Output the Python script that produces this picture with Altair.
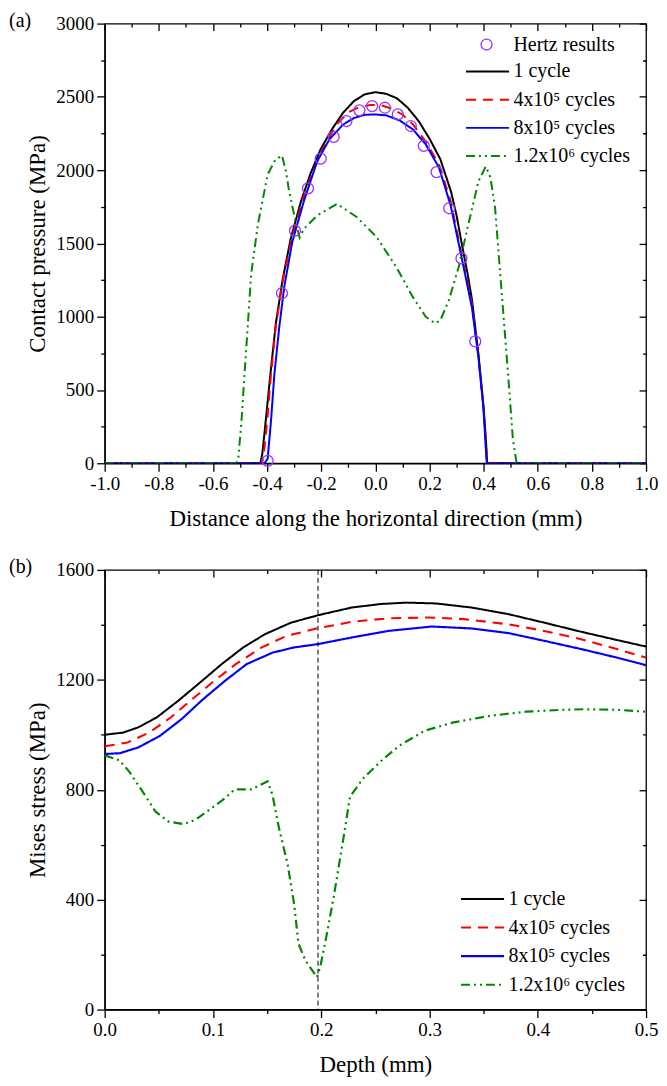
import altair as alt
import pandas as pd

FONT = "Liberation Serif"
SERIES = ["1 cycle", "4x10\u2075 cycles", "8x10\u2075 cycles", "1.2x10\u2076 cycles"]
COLORS = ["#000000", "#ff0000", "#0000ff", "#008800"]
DASHES = [[1, 0], [10, 7], [1, 0], [9, 4, 2, 4, 2, 4]]
WIDTH_A = [2, 2, 3.5, 2.5]
WIDTH_B = [2, 2.2, 2, 2.5]
HERTZ_LABEL = "Hertz results"
HERTZ_COLOR = "#9933ff"
PW, PH = 543, 441
LEGEND_LINE = "M-2.7,0H2.7"

# ---------------- panel (a): contact pressure ----------------
HERTZ_X = [-0.398, -0.345, -0.297, -0.249, -0.202, -0.154, -0.107, -0.059, -0.012,
           0.035, 0.083, 0.131, 0.179, 0.226, 0.273, 0.318, 0.369]
HERTZ_Y = [16, 1160, 1587, 1876, 2079, 2227, 2335, 2408, 2437,
           2426, 2381, 2301, 2166, 1987, 1740, 1398, 832]

A_X_1 = [-1.0, -0.425, -0.418, -0.410, -0.398, -0.386, -0.368, -0.343, -0.313, -0.276,
         -0.240, -0.203, -0.160, -0.120, -0.080, -0.040, 0.000, 0.040, 0.080, 0.120,
         0.160, 0.200, 0.240, 0.280, 0.300, 0.320, 0.340, 0.357, 0.381, 0.399, 0.408, 0.413, 1.0]
A_Y_1 = [0, 0, 60, 200, 420, 640, 950, 1250, 1530, 1780,
         1975, 2140, 2280, 2390, 2470, 2517, 2532, 2521, 2490, 2425,
         2335, 2215, 2075, 1850, 1690, 1490, 1300, 1115, 740, 400, 170, 0, 0]

A_X_4 = [-1.0, -0.418, -0.410, -0.398, -0.386, -0.368, -0.343, -0.310, -0.270, -0.230,
         -0.190, -0.142, -0.100, -0.060, -0.020, 0.020, 0.060, 0.100, 0.140, 0.186,
         0.235, 0.278, 0.318, 0.357, 0.381, 0.399, 0.410, 0.413, 1.0]
A_Y_4 = [0, 0, 100, 320, 600, 930, 1235, 1525, 1790, 1995,
         2160, 2315, 2395, 2430, 2445, 2443, 2420, 2380, 2310, 2195,
         2040, 1790, 1430, 1085, 725, 385, 100, 0, 0]

A_X_8 = [-1.0, -0.410, -0.398, -0.386, -0.373, -0.355, -0.337, -0.307, -0.264, -0.215,
         -0.170, -0.120, -0.080, -0.040, 0.000, 0.040, 0.089, 0.138, 0.186, 0.235,
         0.278, 0.318, 0.357, 0.381, 0.399, 0.410, 0.412, 1.0]
A_Y_8 = [0, 0, 30, 280, 610, 930, 1200, 1510, 1790, 2060,
         2210, 2310, 2355, 2378, 2380, 2374, 2340, 2279, 2177, 2018,
         1760, 1410, 1060, 720, 380, 40, 0, 0]

A_X_12 = [-1.0, -0.515, -0.507, -0.495, -0.483, -0.471, -0.459, -0.434, -0.398, -0.370,
          -0.345, -0.330, -0.319, -0.295, -0.280, -0.264, -0.215, -0.142, -0.069, 0.004,
          0.077, 0.138, 0.186, 0.220, 0.240, 0.271, 0.308, 0.344, 0.381, 0.408,
          0.425, 0.442, 0.466, 0.490, 0.508, 0.521, 0.530, 1.0]
A_Y_12 = [0, 0, 20, 280, 620, 950, 1290, 1630, 1970, 2070,
          2100, 1990, 1860, 1650, 1540, 1600, 1690, 1770, 1680, 1545,
          1340, 1135, 1000, 955, 975, 1110, 1340, 1635, 1925, 2025,
          1950, 1750, 1180, 615, 165, 10, 0, 0]

# ---------------- panel (b): Mises stress ----------------
B_X_1 = [0.0, 0.017, 0.031, 0.048, 0.068, 0.088, 0.108, 0.128, 0.148, 0.172, 0.197,
         0.228, 0.255, 0.279, 0.306, 0.339, 0.373, 0.406, 0.440, 0.473, 0.5]
B_Y_1 = [1000, 1008, 1027, 1063, 1124, 1190, 1257, 1318, 1366, 1408, 1435,
         1463, 1476, 1481, 1478, 1463, 1439, 1408, 1375, 1345, 1321]

B_X_4 = [0.0, 0.021, 0.041, 0.061, 0.081, 0.101, 0.121, 0.145, 0.168, 0.197,
         0.228, 0.262, 0.299, 0.332, 0.373, 0.406, 0.440, 0.473, 0.5]
B_Y_4 = [958, 972, 1008, 1063, 1130, 1196, 1257, 1318, 1360, 1388,
         1411, 1424, 1427, 1421, 1402, 1378, 1348, 1312, 1281]

B_X_8 = [0.0, 0.014, 0.031, 0.051, 0.071, 0.091, 0.111, 0.131, 0.155, 0.175, 0.197,
         0.228, 0.262, 0.302, 0.339, 0.373, 0.406, 0.440, 0.473, 0.5]
B_Y_8 = [930, 933, 954, 996, 1057, 1130, 1196, 1257, 1299, 1318, 1330,
         1354, 1378, 1394, 1387, 1370, 1342, 1312, 1281, 1253]

B_X_12 = [0.0, 0.0137, 0.0228, 0.035, 0.047, 0.059, 0.073, 0.0836, 0.0988, 0.111,
          0.120, 0.1353, 0.1505, 0.155, 0.161, 0.169, 0.175, 0.179, 0.1855, 0.196,
          0.199, 0.204, 0.2114, 0.2205, 0.2266, 0.2387, 0.257, 0.272, 0.2956, 0.322,
          0.356, 0.389, 0.423, 0.443, 0.473, 0.5]
B_Y_12 = [925, 907, 865, 793, 720, 684, 675, 690, 733, 769,
          801, 801, 831, 781, 660, 528, 383, 239, 178, 118,
          154, 251, 407, 624, 775, 841, 911, 960, 1015, 1045,
          1069, 1084, 1091, 1093, 1091, 1084]

DEPTH_MARK = [0.197]

# axis tick positions
XA_TICKS = [round(-1 + 0.1 * i, 1) for i in range(21)]
YA_TICKS = list(range(0, 3001, 250))
XB_TICKS = [round(0.05 * i, 2) for i in range(11)]
YB_TICKS = list(range(0, 1601, 200))

XA_MAJOR = "abs(round(datum.value * 10)) % 2 == 0"
YA_MAJOR = "datum.value % 500 == 0"
XB_MAJOR = "round(datum.value * 100) % 10 == 0"
YB_MAJOR = "datum.value % 400 == 0"


def long_df(xs_list, ys_list):
    rows = []
    for name, xs, ys in zip(SERIES, xs_list, ys_list):
        for i, (x, y) in enumerate(zip(xs, ys)):
            rows.append({"series": name, "x": x, "y": y, "i": i})
    return pd.DataFrame(rows)


def tick_size(test):
    return {"condition": {"test": test, "value": 8}, "value": 4}


def main_axis(vals, test, label_expr, title, pad):
    return alt.Axis(values=vals, labelExpr=label_expr, tickSize=tick_size(test),
                    labelFlush=False, labelOverlap=False, labelPadding=3,
                    title=title, titlePadding=pad)


def mirror_axis(orient, vals, test):
    return alt.Axis(orient=orient, values=vals, labels=False, domain=False, title=None,
                    offset=-7, tickSize=7,
                    tickDash={"condition": {"test": test, "value": [7, 0]},
                              "value": [0, 3.5, 3.5, 20]})


def line_legend(x, y, row_pad):
    return alt.Legend(title=None, orient="none", legendX=x, legendY=y,
                      symbolType=LEGEND_LINE, symbolSize=256, labelFont=FONT,
                      labelFontSize=20, labelColor="black",
                      labelOffset=16, rowPadding=row_pad, padding=0)


def panel(df, xdom, ydom, xticks, yticks, xtest, ytest, xlabel, ylabel, widths,
          legend, tag, extra_layers):
    xs = alt.Scale(domain=xdom, nice=False, zero=False)
    ys = alt.Scale(domain=ydom, nice=False, zero=False)
    lines = alt.Chart(df).mark_line(clip=True).encode(
        x=alt.X("x:Q", scale=xs, axis=main_axis(xticks, xtest, xlabel[1], xlabel[0], 14)),
        y=alt.Y("y:Q", scale=ys, axis=main_axis(yticks, ytest, ylabel[1], ylabel[0], 6)),
        color=alt.Color("series:N", scale=alt.Scale(domain=SERIES, range=COLORS), legend=legend),
        strokeDash=alt.StrokeDash("series:N", scale=alt.Scale(domain=SERIES, range=DASHES), legend=legend),
        strokeWidth=alt.StrokeWidth("series:N", scale=alt.Scale(domain=SERIES, range=widths), legend=legend),
        order="i:Q",
    )
    frame_df = pd.DataFrame({"x": xdom, "y": ydom})
    mirror = alt.Chart(frame_df).mark_point(opacity=0, size=1).encode(
        x=alt.X("x:Q", scale=xs, axis=mirror_axis("top", xticks, xtest)),
        y=alt.Y("y:Q", scale=ys, axis=mirror_axis("right", yticks, ytest)),
    )
    label = alt.Chart(pd.DataFrame({"t": [tag]})).mark_text(
        font=FONT, fontSize=20, align="left", baseline="middle", color="black"
    ).encode(x=alt.value(-96), y=alt.value(-3), text="t:N")
    layers = [lines] + extra_layers(xs, ys) + [mirror, label]
    return alt.layer(*layers).resolve_axis(x="independent", y="independent").properties(
        width=PW, height=PH)


# ---- panel (a)
df_a = long_df([A_X_1, A_X_4, A_X_8, A_X_12], [A_Y_1, A_Y_4, A_Y_8, A_Y_12])
hertz_df = pd.DataFrame({"x": HERTZ_X, "y": HERTZ_Y, "label": HERTZ_LABEL})


def extra_a(xs, ys):
    pts = alt.Chart(hertz_df).mark_point(
        filled=False, color=HERTZ_COLOR, size=121, strokeWidth=1.3, opacity=1
    ).encode(
        x=alt.X("x:Q", scale=xs, axis=None),
        y=alt.Y("y:Q", scale=ys, axis=None),
        shape=alt.Shape("label:N", scale=alt.Scale(domain=[HERTZ_LABEL], range=["circle"]),
                        legend=alt.Legend(title=None, orient="none", legendX=373, legendY=11,
                                          symbolStrokeColor=HERTZ_COLOR,
                                          symbolFillColor="transparent",
                                          symbolStrokeWidth=1.3, symbolSize=121,
                                          labelFont=FONT, labelColor="black",
                                          labelFontSize=20, labelOffset=17, padding=0)),
    )
    return [pts]


XA_LABELS = f"{XA_MAJOR} ? (datum.value < 0 ? '-' : '') + format(abs(datum.value), '.1f') : ''"
YA_LABELS = f"{YA_MAJOR} ? format(datum.value, 'd') : ''"
XB_LABELS = f"{XB_MAJOR} ? format(datum.value, '.1f') : ''"
YB_LABELS = f"{YB_MAJOR} ? format(datum.value, 'd') : ''"

top = panel(df_a, [-1.0, 1.0], [0, 3000], XA_TICKS, YA_TICKS, XA_MAJOR, YA_MAJOR,
            ("Distance along the horizontal direction (mm)", XA_LABELS),
            ("Contact pressure (MPa)", YA_LABELS), WIDTH_A,
            line_legend(374, 38, 8.3), "(a)", extra_a)

# ---- panel (b)
df_b = long_df([B_X_1, B_X_4, B_X_8, B_X_12], [B_Y_1, B_Y_4, B_Y_8, B_Y_12])


def extra_b(xs, ys):
    rule = alt.Chart(pd.DataFrame({"x": DEPTH_MARK})).mark_rule(
        color="black", strokeWidth=1, strokeDash=[5, 3]
    ).encode(x=alt.X("x:Q", scale=xs, axis=None))
    return [rule]


bottom = panel(df_b, [0.0, 0.5], [0, 1600], XB_TICKS, YB_TICKS, XB_MAJOR, YB_MAJOR,
               ("Depth (mm)", XB_LABELS), ("Mises stress (MPa)", YB_LABELS), WIDTH_B,
               line_legend(369, 320, 8.7), "(b)", extra_b)

chart = alt.vconcat(top, bottom, spacing=25).resolve_scale(
    x="independent", y="independent", color="independent",
    strokeDash="independent", strokeWidth="independent", shape="independent"
).resolve_legend(
    color="independent", strokeDash="independent", strokeWidth="independent", shape="independent"
).properties(
    padding={"left": 0, "top": 0, "right": 0, "bottom": 0}
).configure_view(
    stroke="black", strokeWidth=1.3
).configure_axis(
    labelFont=FONT, titleFont=FONT, labelFontSize=19, titleFontSize=23,
    titleFontWeight="normal", labelColor="black", titleColor="black",
    domainColor="black", tickColor="black", domainWidth=1.3, tickWidth=1.3, grid=False
).configure_legend(
    labelFont=FONT, labelFontSize=20, labelColor="black"
)

chart.save("out.html", embed_options={"renderer": "svg", "actions": False})
